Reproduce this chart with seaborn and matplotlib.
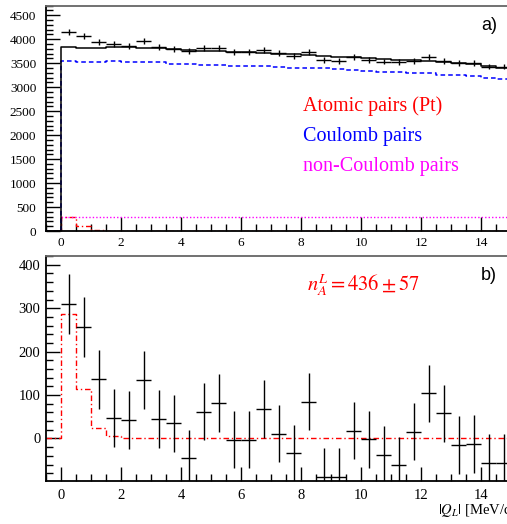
import numpy as np
import pandas as pd
import matplotlib
matplotlib.use("Agg")
import matplotlib.pyplot as plt
from matplotlib.ticker import MultipleLocator
import seaborn as sns

# bins of |Q_L| (MeV/c), width 0.5
q_edges = np.arange(0, 15.5, 0.5)
q_centers = q_edges[:-1] + 0.25

# panel a) measured pairs
data_a = [4150, 4075, 3950, 3895, 3853, 3957, 3839, 3790, 3749, 3811,
          3825, 3728, 3728, 3776, 3707, 3658, 3728, 3568, 3554, 3637,
          3568, 3533, 3519, 3554, 3637, 3554, 3498, 3498, 3429, 3429]
err_a = [64, 64, 63, 62, 62, 63, 62, 62, 61, 62,
         62, 61, 61, 61, 61, 60, 61, 60, 60, 60,
         60, 59, 59, 60, 60, 60, 59, 59, 59, 59]
# sum of fitted contributions
total_a = [3846, 3825, 3825, 3846, 3835, 3825, 3811, 3790, 3770, 3762,
           3756, 3740, 3728, 3720, 3700, 3690, 3672, 3660, 3640, 3620,
           3605, 3590, 3575, 3560, 3545, 3525, 3500, 3475, 3445, 3400]
coulomb = [3553, 3533, 3520, 3553, 3535, 3530, 3520, 3485, 3490, 3470,
           3455, 3449, 3440, 3432, 3425, 3410, 3400, 3390, 3375, 3365,
           3330, 3320, 3315, 3305, 3290, 3260, 3250, 3230, 3200, 3170]
non_coulomb = [290] * 30
atomic = [286, 113, 24, 5, 2, 1, 0, 0, 0, 0,
          0, 0, 0, 0, 0, 0, 0, 0, 0, 0,
          0, 0, 0, 0, 0, 0, 0, 0, 0, 0]

# panel b) residuals after subtracting Coulomb and non-Coulomb pairs
data_b = [310, 256, 136, 48, 43, 134, 45, 35, -46, 62,
          82, -3, -3, 68, 11, -34, 85, -88, -88, 18,
          -2, -38, -62, 16, 104, 58, -15, -13, -56, -56]
err_b = [69, 69, 67, 67, 67, 67, 66, 66, 66, 66,
         66, 66, 66, 66, 66, 66, 66, 66, 66, 66,
         66, 66, 66, 66, 66, 66, 66, 66, 66, 66]

legend_labels = ["Atomic pairs (Pt)", "Coulomb pairs", "non-Coulomb pairs"]
legend_colors = ["#ff0000", "#0000ff", "#ff00ff"]

W, H = 507, 524
fig = plt.figure(figsize=(W / 100, H / 100), dpi=100)
sns.set_theme(style="ticks")
plt.rcParams["font.family"] = ["Liberation Serif", "DejaVu Serif"]
plt.rcParams["mathtext.fontset"] = "stix"


def fx(px):
    return px / W


def fy(py):
    return 1 - py / H


ax_a = fig.add_axes([fx(46), fy(231), fx(511) - fx(46), fy(5.7) - fy(231)])
ax_b = fig.add_axes([fx(46), fy(481), fx(511) - fx(46), fy(255.7) - fy(481)])


def step_line(ax, values, start_zero=True, **kw):
    # histogram outline through seaborn, starting at 0 for x < 0
    xs = list(q_edges)
    ys = list(values) + [values[-1]]
    if start_zero:
        xs = [-0.5] + xs
        ys = [0] + ys
    df = pd.DataFrame({"q": xs, "n": ys})
    sns.lineplot(data=df, x="q", y="n", ax=ax, drawstyle="steps-post",
                 estimator=None, sort=False, **kw)


# ---- panel a ----
step_line(ax_a, atomic, color="#ff0000", linestyle=(0, (4, 2, 1, 2)), lw=1)
step_line(ax_a, non_coulomb, start_zero=False, color="#ff00ff", linestyle=(0, (1, 1.5)), lw=1)
step_line(ax_a, coulomb, color="#0000ff", linestyle=(0, (3, 2)), lw=1.1)
step_line(ax_a, total_a, color="black", lw=1.1)
ax_a.errorbar(q_centers, data_a, xerr=0.25, yerr=err_a, fmt="none",
              ecolor="black", elinewidth=1, capsize=0)

ax_a.set_xlim(-0.5, 15)
ax_a.set_ylim(0, 4700)
ax_a.yaxis.set_major_locator(MultipleLocator(500))
ax_a.yaxis.set_minor_locator(MultipleLocator(100))

# ---- panel b ----
step_line(ax_b, atomic, color="#ff0000", linestyle=(0, (4, 2, 1, 2)), lw=1)
ax_b.errorbar(q_centers, data_b, xerr=0.25, yerr=err_b, fmt="none",
              ecolor="black", elinewidth=1, capsize=0)
ax_b.set_xlim(-0.5, 15)
ax_b.set_ylim(-98, 421)
ax_b.yaxis.set_major_locator(MultipleLocator(100))
ax_b.yaxis.set_minor_locator(MultipleLocator(20))

for ax, lsize, ypad, xpad in ((ax_a, 9.5, 7, 4), (ax_b, 10.5, 4, 6)):
    ax.set_xlabel("")
    ax.set_ylabel("")
    ax.xaxis.set_major_locator(MultipleLocator(2))
    ax.xaxis.set_minor_locator(MultipleLocator(0.5))
    ax.tick_params(which="both", direction="in", top=False, right=False,
                   labelsize=lsize, colors="black")
    ax.tick_params(axis="y", which="both", pad=ypad)
    ax.tick_params(axis="x", which="both", pad=xpad)
    ax.tick_params(which="major", length=10, width=1)
    ax.tick_params(which="minor", length=5, width=1)
    for s in ("left", "bottom", "top", "right"):
        ax.spines[s].set_visible(True)
        ax.spines[s].set_linewidth(1.3)
        ax.spines[s].set_color("black")
    ax.spines["top"].set_color("#666666")

# legend texts
for i, (lab, col) in enumerate(zip(legend_labels, legend_colors)):
    fig.text(fx(303), fy(111 + 30 * i), lab, color=col, fontsize=14.5, va="baseline")

fig.text(fx(481), fy(26), "a)", color="black", fontsize=13, va="center",
         family=["Liberation Sans"])
fig.text(fx(481), fy(275), "b)", color="black", fontsize=13, va="center",
         family=["Liberation Sans"])
fig.text(fx(307), fy(291), r"$n_A^L = 436 \pm 57$", color="#ff0000",
         fontsize=14.8, va="baseline")

# axis title, cut at the right edge as in the original figure
fig.text(fx(438), fy(514), r"$|Q_L|$ [MeV/c]", fontsize=10.5, color="black",
         va="baseline")

fig.savefig("out.png", dpi=100)
